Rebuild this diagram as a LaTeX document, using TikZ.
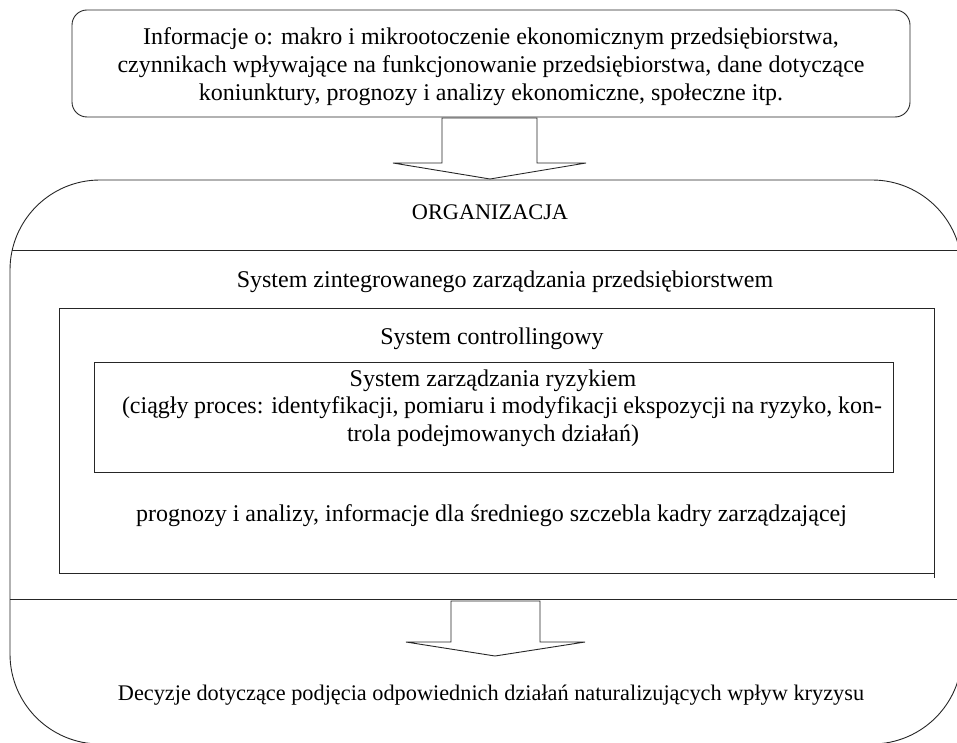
\documentclass[tikz,border=0pt]{standalone}
\usepackage{fontspec}
\setmainfont{Liberation Serif}
\begin{document}
\begin{tikzpicture}[x=1pt,y=-1pt,
  txt/.style={font=\fontsize{24}{27.6}\selectfont, anchor=base, inner sep=0pt},
  txts/.style={font=\fontsize{22.3}{25.6}\selectfont, anchor=base, inner sep=0pt},
  frame/.style={draw=black!85, line width=0.9pt},
  arrowshape/.style={draw=black!85, line width=0.9pt, fill=white, line join=miter}]
\useasboundingbox (0,0) rectangle (957,743);
\begin{scope}
\clip (0,0) rectangle (957,743);
% top information box
\draw[frame, rounded corners=15pt] (72,10) rectangle (910,117);
% big organisation shape
\draw[frame, rounded corners=90pt] (10,180) rectangle (962,744);
\draw[frame] (12.3,250) -- (960,250);
\draw[frame] (10,599) -- (962,599);
% middle and inner rectangles
\draw[frame] (59,308) rectangle (934,573);
\draw[frame] (934,573) -- (934,578);
\draw[frame] (94,362) rectangle (893,472);
% arrows
\draw[arrowshape] (442,118) -- (537,118) -- (537,163) -- (586,163) -- (490,179) -- (393,163) -- (442,163) -- cycle;
\draw[arrowshape] (451,601) -- (540,601) -- (540,642) -- (585,642) -- (495,656) -- (406,642) -- (451,642) -- cycle;
\end{scope}
% texts
\node[txt] (t1) at (491,45) {Informacje o: makro i mikrootoczenie ekonomicznym przedsiębiorstwa,};
\node[txt] (t2) at (491,73) {czynnikach wpływające na funkcjonowanie przedsiębiorstwa, dane dotyczące};
\node[txt] (t3) at (491,101) {koniunktury, prognozy i analizy ekonomiczne, społeczne itp.};
\node[txts] (org) at (490,220) {ORGANIZACJA};
\node[txt] (szz) at (505,287) {System zintegrowanego zarządzania przedsiębiorstwem};
\node[txt] (sc) at (492,344) {System controllingowy};
\node[txt] (szr) at (493,386) {System zarządzania ryzykiem};
\node[txt] (c1) at (502,413) {\makebox[760pt][s]{(ciągły proces: identyfikacji, pomiaru i modyfikacji ekspozycji na ryzyko, kon-}};
\node[txt] (c2) at (493,441) {trola podejmowanych działań)};
\node[txt] (pr) at (491.5,521) {prognozy i analizy, informacje dla średniego szczebla kadry zarządzającej};
\node[txts] (dec) at (491,700) {Decyzje dotyczące podjęcia odpowiednich działań naturalizujących wpływ kryzysu};
\end{tikzpicture}
\end{document}
